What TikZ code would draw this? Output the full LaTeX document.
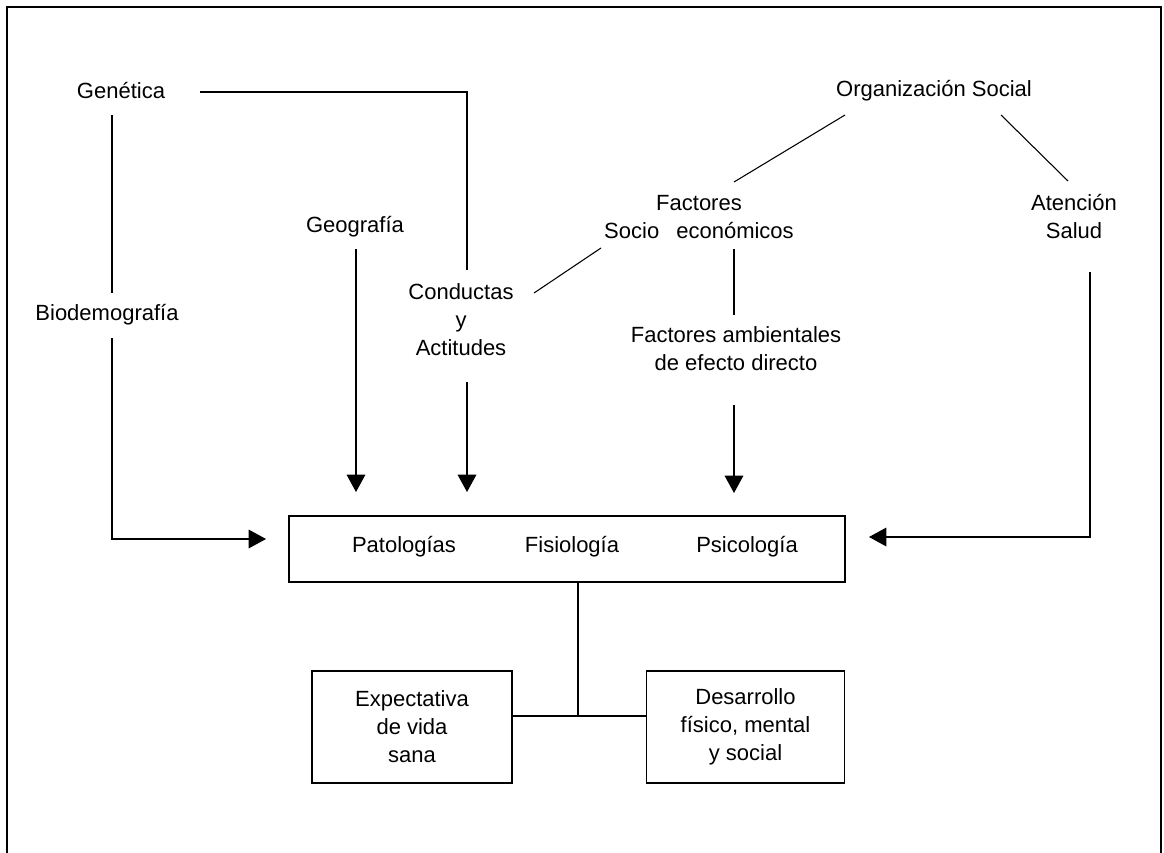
\documentclass[tikz,border=0pt]{standalone}
\usepackage{fontspec}
\setmainfont{Liberation Sans}
\usetikzlibrary{arrows.meta}
\begin{document}
\begin{tikzpicture}[x=0.75pt,y=-0.75pt,
  lbl/.style={inner sep=0pt, align=center, font=\fontsize{16.5}{21}\selectfont},
  boxnode/.style={draw, line width=0.9pt, inner sep=0pt, align=center, font=\fontsize{16.5}{21}\selectfont},
  conn/.style={line width=0.8pt},
  arr/.style={conn, -{Triangle[length=13pt,width=14pt]}},
  frame/.style={line width=1.5pt}]
\useasboundingbox (0,0) rectangle (1164,853);
\draw[frame] (7,853) -- (7,7) -- (1161,7) -- (1161,853);

% text nodes
\node[lbl] (gen) at (121,91) {Genética};
\node[lbl] (bio) at (107,315) {Biodemografía};
\node[lbl] (geo) at (355,227) {Geografía};
\node[lbl] (cond) at (461,320) {Conductas\\y\\Actitudes};
\node[lbl] (org) at (934,91) {Organización Social};
\node[lbl] (soc) at (699,217) {Factores\\Socio\hspace{0.5em} económicos};
\node[lbl] (ate) at (1074,217) {Atención\\Salud};
\node[lbl] (amb) at (736,349) {Factores ambientales\\de efecto directo};

% boxes
\node[boxnode, minimum width=417pt, minimum height=49.5pt] (main) at (567,549) {};
\node[lbl] (pat) at (404,547) {Patologías};
\node[lbl] (fis) at (572,547) {Fisiología};
\node[lbl] (psi) at (747,547) {Psicología};
\node[boxnode, minimum width=150pt, minimum height=84pt] (exp) at (412,727) {Expectativa\\de vida\\sana};
\node[boxnode, minimum width=149pt, minimum height=84pt] (des) at (745.5,727) {Desarrollo\\físico, mental\\y social};

% connector end points
\coordinate (g1) at (200,92);
\coordinate (g2) at (467,270);
\coordinate (g3) at (112,115);
\coordinate (g4) at (112,293);
\coordinate (b1) at (112,338);
\coordinate (b2) at (266,539);
\coordinate (geo1) at (356,249);
\coordinate (geo2) at (356,492);
\coordinate (c1) at (467,382);
\coordinate (c2) at (467,492);
\coordinate (o1) at (845,115);
\coordinate (o2) at (734,182);
\coordinate (o3) at (1001,115);
\coordinate (o4) at (1068,181);
\coordinate (s1) at (601,248);
\coordinate (s2) at (534,293);
\coordinate (s3) at (734,249);
\coordinate (s4) at (734,315);
\coordinate (a1) at (734,405);
\coordinate (a2) at (734,493);
\coordinate (t1) at (1090,272);
\coordinate (t2) at (869,537);
\coordinate (m1) at (578,716);

% connectors
\draw[conn] (g1) -| (g2);
\draw[conn] (g3) -- (g4);
\draw[arr] (b1) |- (b2);
\draw[arr] (geo1) -- (geo2);
\draw[arr] (c1) -- (c2);
\draw[conn] (o1) -- (o2);
\draw[conn] (o3) -- (o4);
\draw[conn] (s1) -- (s2);
\draw[conn] (s3) -- (s4);
\draw[arr] (a1) -- (a2);
\draw[arr] (t1) |- (t2);
\draw[conn] (main.south -| m1) -- (m1);
\draw[conn] (exp.east |- m1) -- (des.west |- m1);
\end{tikzpicture}
\end{document}
